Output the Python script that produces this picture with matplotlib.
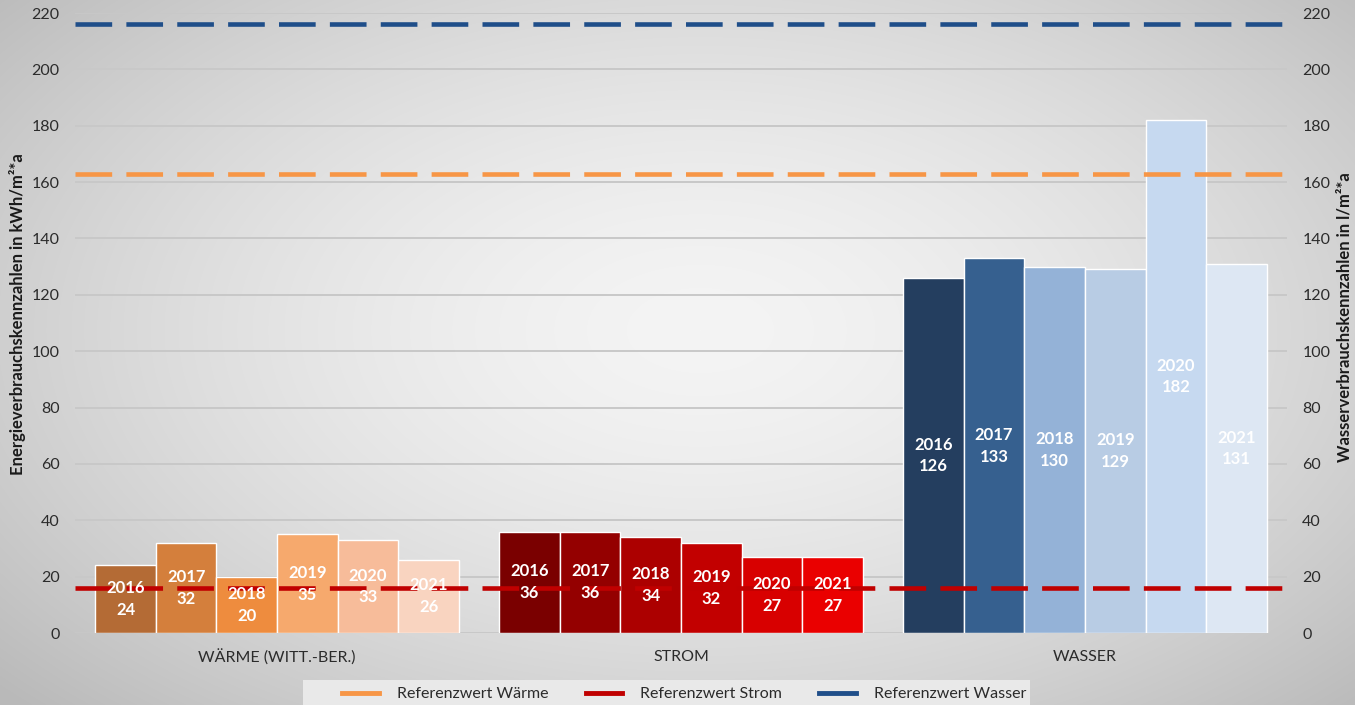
import numpy as np
import matplotlib.pyplot as plt
from matplotlib.lines import Line2D
from matplotlib.patches import Rectangle

plt.rcParams['font.family'] = ['Lato', 'DejaVu Sans']

categories = ['WÄRME (WITT.-BER.)', 'STROM', 'WASSER']
years = ['2016', '2017', '2018', '2019', '2020', '2021']
waerme = [24, 32, 20, 35, 33, 26]
strom = [36, 36, 34, 32, 27, 27]
wasser = [126, 133, 130, 129, 182, 131]

ref_waerme = 163
ref_strom = 16
ref_wasser = 216

waerme_colors = ['#b46b35', '#d47f3c', '#ee8c3e', '#f6a96d', '#f7bc9a', '#f9d4c0']
strom_colors = ['#7a0000', '#940000', '#ac0000', '#c20000', '#d80000', '#ea0000']
wasser_colors = ['#243e5f', '#36608f', '#94b2d7', '#b8cce4', '#c6d9f0', '#dde7f3']

fig = plt.figure(figsize=(13.55, 7.05), dpi=100)

# soft radial background
bg = fig.add_axes([0, 0, 1, 1], zorder=-10)
yy, xx = np.mgrid[0:705, 0:1355]
r = np.sqrt(((xx - 700) / 900.0) ** 2 + ((yy - 330) / 520.0) ** 2)
shade = np.clip(244 - 55 * r ** 1.6, 185, 245) / 255.0
bg.imshow(np.dstack([shade] * 3), aspect='auto', extent=[0, 1, 0, 1])
bg.axis('off')

ax = fig.add_axes([0.0554, 0.1021, 0.8944, 0.8794])
ax.set_facecolor('none')
ax2 = ax.twinx()
ax2.set_facecolor('none')

width = 0.15
x = np.arange(len(categories))
offsets = (np.arange(len(years)) - 2.5) * width

ax.bar(x[0] + offsets, waerme, width, color=waerme_colors, edgecolor='white', linewidth=1, zorder=3)
ax.bar(x[1] + offsets, strom, width, color=strom_colors, edgecolor='white', linewidth=1, zorder=3)
ax2.bar(x[2] + offsets, wasser, width, color=wasser_colors, edgecolor='white', linewidth=1, zorder=3)

ref_lines = [(ref_waerme, '#f79646'), (ref_strom, '#c00000'), (ref_wasser, '#1f4e89')]
for val, col in ref_lines:
    ax2.axhline(val, color=col, lw=3.3, dashes=(8, 3.1), dash_capstyle='butt', zorder=5)

for i, series in enumerate([waerme, strom, wasser]):
    for j, v in enumerate(series):
        ax2.text(x[i] + offsets[j], v / 2, f'{years[j]}\n{v}', ha='center', va='center',
                 color='white', fontsize=12, fontweight='bold', linespacing=1.45, zorder=6)

for a in (ax, ax2):
    a.set_ylim(0, 220)
    a.set_yticks(range(0, 221, 20))
    a.set_xlim(-0.5, 2.5)
    for s in a.spines.values():
        s.set_visible(False)
    a.tick_params(axis='y', length=0, pad=11, labelsize=11.5, labelcolor='#2b2b2b')

ax.yaxis.grid(True, color='#c8c8c8', lw=1.4, zorder=0)
ax.set_axisbelow(True)
ax.set_xticks(x)
ax.set_xticklabels(categories)
ax.tick_params(axis='x', length=0, pad=12, labelsize=11.5, labelcolor='#2b2b2b')

ax.set_ylabel('Energieverbrauchskennzahlen in kWh/m²*a', fontsize=12, fontweight='bold',
              color='#1a1a1a')
ax2.set_ylabel('Wasserverbrauchskennzahlen in l/m²*a', fontsize=12, fontweight='bold',
               color='#1a1a1a')
ax.yaxis.set_label_coords(-0.0405, 0.515)
ax2.yaxis.set_label_coords(1.0405, 0.51)

# legend panel at the bottom
fig.patches.append(Rectangle((303 / 1355, 0), (1030 - 303) / 1355, 25 / 705,
                             transform=fig.transFigure, facecolor='#e9e9e9', edgecolor='none', zorder=1))
handles = [Line2D([], [], color=c, lw=3.5) for _, c in ref_lines]
names = ['Referenzwert Wärme', 'Referenzwert Strom', 'Referenzwert Wasser']
fig.legend(handles, names, loc='center', bbox_to_anchor=(0.505, 11 / 705), ncol=3, frameon=False,
           fontsize=11.5, handlelength=2.3, handletextpad=1.1, columnspacing=2.35, labelcolor='#2b2b2b')

fig.savefig('out.png', dpi=100)
